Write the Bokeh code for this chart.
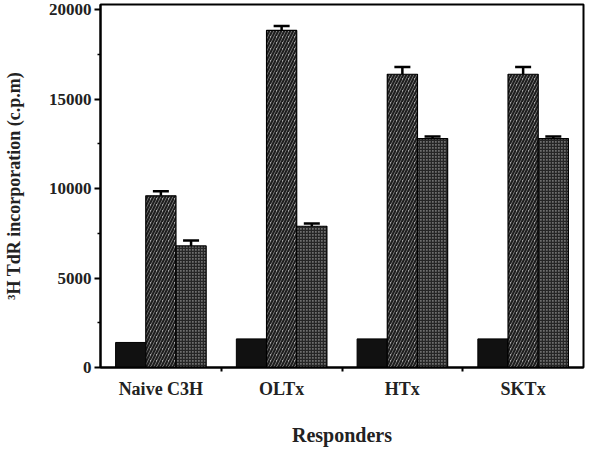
from bokeh.plotting import figure
from bokeh.models import ColumnDataSource, Range1d, FixedTicker, Whisker, TeeHead
from bokeh.embed import file_html
from bokeh.resources import INLINE

groups = ["Naive C3H", "OLTx", "HTx", "SKTx"]
series_black = [1400, 1600, 1600, 1600]
series_hatched = [9600, 18850, 16400, 16400]
err_hatched = [250, 250, 400, 400]
series_dotted = [6800, 7900, 12800, 12800]
err_dotted = [300, 150, 120, 120]

FONT = "Liberation Serif"
centers = [i + 0.5 for i in range(len(groups))]
bw = 0.25

p = figure(width=586, height=448, output_backend="svg", toolbar_location=None,
           x_range=Range1d(0, 4), y_range=Range1d(0, 20300),
           min_border_left=100, min_border_right=3, min_border_top=4, min_border_bottom=76)
p.grid.visible = False
p.outline_line_color = "black"
p.outline_line_width = 2

def src(vals, off, err=None):
    d = dict(x=[c + off for c in centers], top=vals)
    if err is not None:
        d["upper"] = [v + e for v, e in zip(vals, err)]
    return ColumnDataSource(d)

s1 = src(series_black, -bw)
s2 = src(series_hatched, 0, err_hatched)
s3 = src(series_dotted, bw, err_dotted)

p.vbar(x="x", top="top", width=bw, source=s1, fill_color="#111111", line_color="black", line_width=1)
p.vbar(x="x", top="top", width=bw, source=s2, fill_color="#a8a8a8", line_color="black", line_width=1.2,
       hatch_pattern="right_diagonal_line", hatch_color="#1e1e1e", hatch_scale=6, hatch_weight=2.2)
p.vbar(x="x", top="top", width=bw, source=s3, fill_color="#6e6e6e", line_color="black", line_width=1.2,
       hatch_pattern="cross", hatch_color="#262626", hatch_scale=3, hatch_weight=1.6)

for s in (s2, s3):
    w = Whisker(base="x", lower="top", upper="upper", source=s, dimension="height",
                line_color="black", line_width=2.5,
                upper_head=TeeHead(size=16, line_width=2.5, line_color="black"),
                lower_head=None, level="overlay")
    p.add_layout(w)

xa = p.xaxis[0]
xa.ticker = FixedTicker(ticks=centers, minor_ticks=[1, 2, 3])
xa.major_label_overrides = {c: g for c, g in zip(centers, groups)}
xa.major_tick_line_color = None
xa.minor_tick_line_color = "black"
xa.minor_tick_out = 4
xa.minor_tick_in = 0
xa.minor_tick_line_width = 2
xa.axis_line_width = 2
xa.major_label_standoff = 5
xa.major_label_text_font = FONT
xa.major_label_text_font_style = "bold"
xa.major_label_text_font_size = "18px"
xa.major_label_text_color = "#222222"
xa.axis_label = "Responders"
xa.axis_label_text_font = FONT
xa.axis_label_text_font_style = "bold"
xa.axis_label_text_font_size = "20px"
xa.axis_label_text_color = "#222222"
xa.axis_label_standoff = 22

ya = p.yaxis[0]
ya.ticker = FixedTicker(ticks=[0, 5000, 10000, 15000, 20000], minor_ticks=[2500, 7500, 12500, 17500])
ya.axis_line_width = 2
ya.major_tick_out = 6
ya.major_tick_in = 0
ya.major_tick_line_width = 2
ya.minor_tick_out = 3
ya.minor_tick_in = 0
ya.minor_tick_line_width = 1.5
ya.major_label_standoff = 3
ya.major_label_text_font = FONT
ya.major_label_text_font_style = "bold"
ya.major_label_text_font_size = "17px"
ya.major_label_text_color = "#222222"
ya.axis_label = "\u00b3H TdR incorporation (c.p.m)"
ya.axis_label_text_font = FONT
ya.axis_label_text_font_style = "bold"
ya.axis_label_text_font_size = "18px"
ya.axis_label_text_color = "#222222"
ya.axis_label_standoff = 22

open("out.html", "w").write(file_html(p, INLINE))
